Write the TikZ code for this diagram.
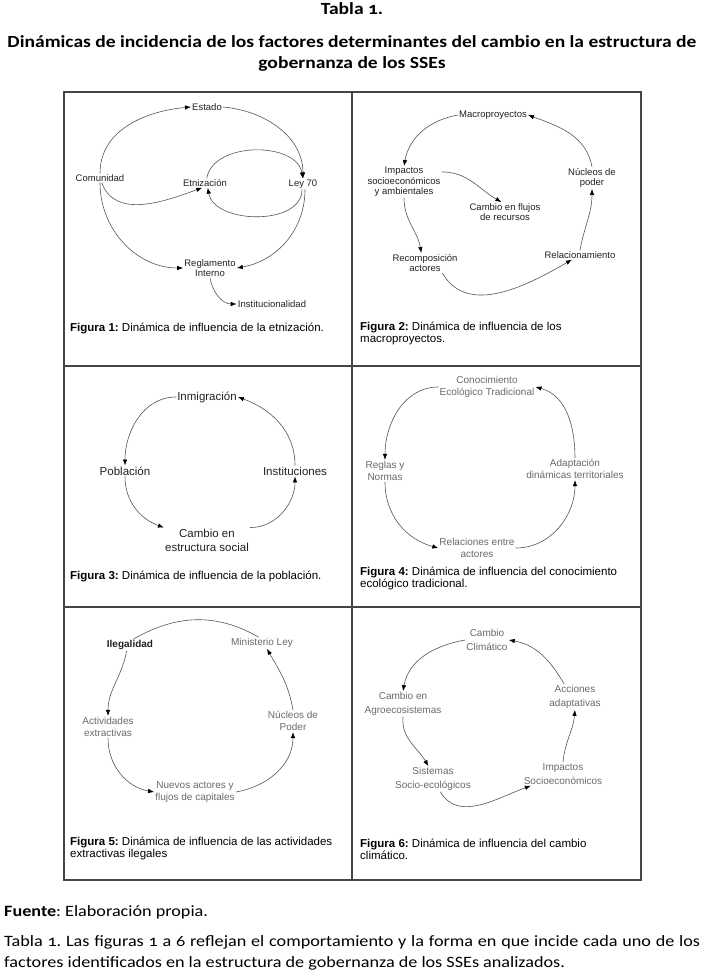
\documentclass[tikz,border=0pt]{standalone}
\usepackage{fontspec}
\setmainfont{Carlito}[Numbers=OldStyle]
\newfontfamily\candf{Carlito}[Numbers=OldStyle, FakeStretch=1.15]
\newfontfamily\arialf{Liberation Sans}
\usetikzlibrary{arrows.meta}
\definecolor{linegray}{HTML}{555555}
\definecolor{txtgray}{HTML}{6A6A6A}
\definecolor{txtdark}{HTML}{222222}
\definecolor{framegray}{HTML}{454545}
\frenchspacing
\begin{document}
\begin{tikzpicture}[x=1pt,y=1pt,
  arr/.style={draw=linegray, line width=0.6pt, -{Latex[length=6pt,width=4.5pt,color=black]}},
  plainarc/.style={draw=linegray, line width=0.6pt},
  framebox/.style={draw=framegray, line width=1.4pt},
  pa/.style={font=\arialf\fontsize{9.5}{10.5}\selectfont, text=txtdark, inner sep=1pt, align=center},
  pb/.style={font=\arialf\fontsize{11.5}{14}\selectfont, text=txtdark, inner sep=1pt, align=center},
  pc/.style={font=\arialf\fontsize{10}{12.5}\selectfont, text=txtgray, inner sep=1pt, align=center},
  pd/.style={font=\arialf\fontsize{10}{14}\selectfont, text=txtgray, inner sep=1pt, align=center},
  figcap/.style={font=\arialf\fontsize{11.5}{12}\selectfont, text=black, inner sep=0pt, align=left, anchor=north west},
  head/.style={font=\candf\bfseries\fontsize{17}{21}\selectfont, text=black, inner sep=0pt, align=center},
  body/.style={font=\candf\fontsize{15.8}{21.5}\selectfont, text=black, inner sep=0pt}
]
\useasboundingbox (0,0) rectangle (703,-974);
\fill[white] (0,0) rectangle (703,-974);

% header
\node[head] (t1) at (352,-9) {Tabla 1.};
\node[head] (t2) at (352,-53) {Dinámicas de incidencia de los factores determinantes del cambio en la estructura de\\gobernanza de los SSEs};

% frame
\draw[framebox] (64,-92) rectangle (641,-880);
\draw[framebox] (352,-92) -- (352,-880);
\draw[framebox] (64,-366) -- (641,-366);
\draw[framebox] (64,-607) -- (641,-607);

% ---------- panel 1
\node[pa] (est) at (207,-107) {Estado};
\node[pa] (com) at (100,-178) {Comunidad};
\node[pa] (etn) at (205,-183) {Etnización};
\node[pa] (ley) at (303,-184) {Ley 70};
\node[pa] (reg) at (210,-268) {Reglamento\\Interno};
\node[pa] (ins) at (272,-304) {Institucionalidad};
\draw[arr] (com.north) to[out=90,in=185] (est.west);
\draw[arr] (est.east) to[out=-5,in=90] (ley.north);
\draw[arr] (etn.70) to[out=80,in=100] (ley.north);
\draw[arr] (ley.-100) to[out=-90,in=-80] (etn.-60);
\draw[arr] (com.-70) to[out=-70,in=200] (etn.-120);
\draw[arr] (com.south) to[out=-90,in=180] (reg.west);
\draw[arr] (ley.-70) to[out=-90,in=10] (reg.east);
\draw[arr] (reg.south) to[out=-80,in=180] (ins.west);
\node[figcap] (c1) at (70,-323) {\textbf{Figura 1:} Dinámica de influencia de la etnización.};

% ---------- panel 2
\node[pa] (mac) at (493,-115) {Macroproyectos};
\node[pa] (imp) at (404,-182) {Impactos\\socioeconómicos\\y ambientales};
\node[pa] (cam) at (505,-212) {Cambio en flujos\\de recursos};
\node[pa] (rec) at (425,-263) {Recomposición\\actores};
\node[pa] (rel) at (580,-255) {Relacionamiento};
\node[pa] (nuc) at (592,-178) {Núcleos de\\poder};
\draw[arr] (mac.west) to[out=190,in=80] (imp.north);
\draw[arr] (imp.15) to[out=0,in=150] (cam.110);
\draw[arr] (imp.south) to[out=-90,in=100] (rec.110);
\draw[arr] (rec.-30) to[out=-60,in=-150] (rel.-150);
\draw[arr] (rel.north) to[out=80,in=-90] (nuc.south);
\draw[arr] (nuc.north) to[out=100,in=-20] (mac.east);
\node[figcap] (c2) at (360,-322) {\textbf{Figura 2:} Dinámica de influencia de los\\macroproyectos.};

% ---------- panel 3
\node[pb] (inm) at (207,-397) {Inmigración};
\node[pb] (pob) at (125,-471) {Población};
\node[pb] (ins3) at (295,-471) {Instituciones};
\node[pb] (cam3) at (207,-540) {Cambio en\\estructura social};
\draw[arr] (inm.west) to[out=180,in=90] (pob.north);
\draw[arr] (pob.south) to[out=-90,in=160] (cam3.north west);
\draw[arr] (cam3.north east) to[out=0,in=-90] (ins3.south);
\draw[arr] (ins3.north) to[out=90,in=-20] (inm.east);
\node[figcap] (c3) at (70,-571) {\textbf{Figura 3:} Dinámica de influencia de la población.};

% ---------- panel 4
\node[pc] (con) at (487,-387) {Conocimiento\\Ecológico Tradicional};
\node[pc] (rg4) at (385,-471) {Reglas y\\Normas};
\node[pc] (ada) at (575,-469) {Adaptación\\dinámicas territoriales};
\node[pc] (rle) at (477,-548) {Relaciones entre\\actores};
\draw[arr] (con.west) to[out=180,in=90] (rg4.north);
\draw[arr] (rg4.south) to[out=-90,in=165] (rle.west);
\draw[arr] (rle.east) to[out=0,in=-90] (ada.south);
\draw[arr] (ada.north) to[out=90,in=-15] (con.east);
\node[figcap] (c4) at (360,-567) {\textbf{Figura 4:} Dinámica de influencia del conocimiento\\ecológico tradicional.};

% ---------- panel 5
\node[pc, font=\arialf\bfseries\fontsize{10}{12.5}\selectfont, text=txtdark] (ile) at (130,-645) {Ilegalidad};
\node[pc] (min) at (262,-643) {Ministerio Ley};
\node[pc] (act) at (108,-727) {Actividades\\extractivas};
\node[pc] (nc5) at (293,-721) {Núcleos de\\Poder};
\node[pc] (nue) at (195,-792) {Nuevos actores y\\flujos de capitales};
\draw[plainarc] (min.120) to[out=150,in=30] (ile.60);
\draw[arr] (ile.-120) to[out=-100,in=90] (act.north);
\draw[arr] (act.south) to[out=-90,in=170] (nue.west);
\draw[arr] (nue.east) to[out=10,in=-90] (nc5.south);
\draw[arr] (nc5.north) to[out=100,in=-60] (min.-50);
\node[figcap] (c5) at (70,-837) {\textbf{Figura 5:} Dinámica de influencia de las actividades\\extractivas ilegales};

% ---------- panel 6
\node[pd] (cc) at (487,-640) {Cambio\\Climático};
\node[pd] (agr) at (403,-704) {Cambio en\\Agroecosistemas};
\node[pd] (acc) at (575,-697) {Acciones\\adaptativas};
\node[pd] (sis) at (433,-779) {Sistemas\\Socio-ecológicos};
\node[pd] (imc) at (563,-774) {Impactos\\Socioeconómicos};
\draw[arr] (cc.west) to[out=190,in=80] (agr.north);
\draw[arr] (agr.south) to[out=-95,in=120] (sis.110);
\draw[arr] (sis.-60) to[out=-60,in=200] (imc.-160);
\draw[arr] (imc.north) to[out=85,in=-95] (acc.south);
\draw[arr] (acc.130) to[out=120,in=-10] (cc.east);
\node[figcap] (c6) at (360,-839) {\textbf{Figura 6:} Dinámica de influencia del cambio\\climático.};

% footer
\node[body, anchor=west] (fu) at (4,-912) {\textbf{Fuente}: Elaboración propia.};
\node[body, anchor=north west, text width=696pt, align=justify] (ft) at (4,-935) {Tabla 1. Las figuras 1 a 6 reflejan el comportamiento y la forma en que incide cada uno de los\linebreak factores identificados en la estructura de gobernanza de los SSEs analizados.};
\end{tikzpicture}
\end{document}
